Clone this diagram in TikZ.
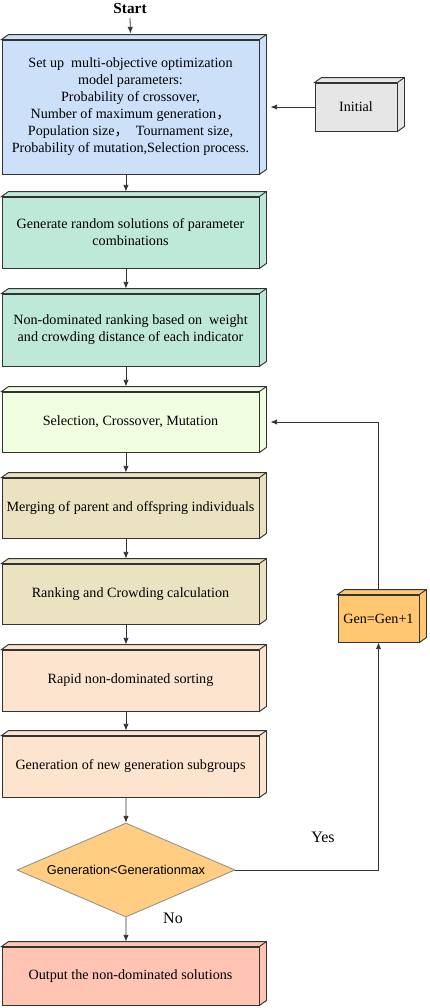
\documentclass[tikz,border=0pt]{standalone}
\usepackage{fontspec}
\setmainfont{Liberation Serif}
\newfontfamily\cjk{Noto Sans CJK SC}
\newfontfamily\arialfont{Liberation Sans}
\usetikzlibrary{arrows.meta,shapes.geometric}

\definecolor{setblue}{RGB}{204,224,250}
\definecolor{mint}{RGB}{190,232,216}
\definecolor{selgreen}{RGB}{240,255,224}
\definecolor{khaki}{RGB}{234,226,192}
\definecolor{peach}{RGB}{253,228,206}
\definecolor{salmon}{RGB}{255,196,180}
\definecolor{diaorange}{RGB}{255,206,130}
\definecolor{genorange}{RGB}{255,200,112}
\definecolor{initgrey}{RGB}{230,230,230}

\tikzset{
  box/.style={draw=black!80, line width=0.7pt, fill=#1, minimum width=192.75pt,
    align=center, inner sep=2pt, font=\fontsize{10.6}{12.75}\selectfont},
  arr/.style={draw=black!80, line width=0.6pt, -{Latex[length=5pt,width=4pt]}},
  lbl/.style={font=\fontsize{12}{14}\selectfont}
}

\begin{document}
\begin{tikzpicture}[x=0.75pt, y=-0.75pt]
  \useasboundingbox (0,0) rectangle (429,1008);

  \node[font=\fontsize{11.5}{13}\selectfont\bfseries] (start) at (130,8) {Start};

  % main column
  \node[box=setblue, minimum height=100.5pt] (set) at (130.5,107)
    {Set up\ \ multi-objective optimization\\
     model parameters:\\
     Probability of crossover,\\
     Number of maximum generation{\cjk ，}\\
     Population size{\cjk ，}\ \ Tournament size,\\
     Probability of mutation,Selection process.};
  \node[box=mint, minimum height=53.25pt] (rand) at (130.5,232.5)
    {Generate random solutions of parameter\\ combinations};
  \node[box=mint, minimum height=54pt] (rank) at (130.5,330)
    {Non-dominated ranking based on\ \ weight\\ and crowding distance of each indicator};
  \node[box=selgreen, minimum height=45pt] (sel) at (130.5,422) {Selection, Crossover, Mutation};
  \node[box=khaki, minimum height=45pt] (merge) at (130.5,508) {Merging of parent and offspring individuals};
  \node[box=khaki, minimum height=45pt] (crowd) at (130.5,594) {Ranking and Crowding calculation};
  \node[box=peach, minimum height=45.75pt] (rapid) at (130.5,680.5) {Rapid non-dominated sorting};
  \node[box=peach, minimum height=45.75pt] (newgen) at (130.5,766.5) {Generation of new generation subgroups};
  \node[draw=black!45, line width=0.6pt, fill=diaorange, diamond, aspect=2.3, inner sep=1pt,
    minimum width=163.5pt, minimum height=70.5pt, font=\arialfont\fontsize{9.6}{11}\selectfont]
    (dia) at (126,870) {Generation<Generationmax};
  \node[box=salmon, minimum height=43.5pt] (out) at (130.5,976) {Output the non-dominated solutions};

  % side boxes
  \node[box=initgrey, minimum width=61.5pt, minimum height=36pt] (init) at (356,107) {Initial};
  \node[box=genorange, minimum width=60.75pt, minimum height=35.25pt] (gen) at (378.5,618.5) {Gen=Gen+1};

  % 3D faces
  \foreach \n/\c in {set/setblue, rand/mint, rank/mint, sel/selgreen, merge/khaki, crowd/khaki,
      rapid/peach, newgen/peach, out/salmon, init/initgrey, gen/genorange}
  {
    \draw[draw=black!80, line width=0.7pt, fill=\c]
      (\n.north west) -- ++(5.25pt,3.75pt) -| ([shift={(5.25pt,3.75pt)}]\n.south east)
      -- (\n.south east) -- (\n.north east) -- cycle;
    \draw[draw=black!80, line width=0.7pt] (\n.north east) -- ++(5.25pt,3.75pt);
  }

  % arrows
  \draw[arr] (start.south) -- ([yshift=4.5pt]set.north);
  \foreach \a/\b in {set/rand, rand/rank, rank/sel, sel/merge, merge/crowd, crowd/rapid,
      rapid/newgen}
    \draw[arr] ([xshift=-3.4pt]\a.south) -- ([xshift=-3.4pt,yshift=3.75pt]\b.north);
  \draw[arr] ([xshift=-3.4pt]newgen.south) -- (dia.north);
  \draw[arr] (dia.south) -- ([xshift=-3.4pt,yshift=3.75pt]out.north);
  \draw[arr] (init.west) -- ([xshift=8.25pt]set.east);
  \draw[arr] (dia.east) -| (gen.south);
  \draw[arr] ([yshift=3.75pt]gen.north) |- ([xshift=8.25pt]sel.east);

  \node[lbl] (yes) at (323,837) {Yes};
  \node[lbl] (no) at (173,918) {No};
\end{tikzpicture}
\end{document}
